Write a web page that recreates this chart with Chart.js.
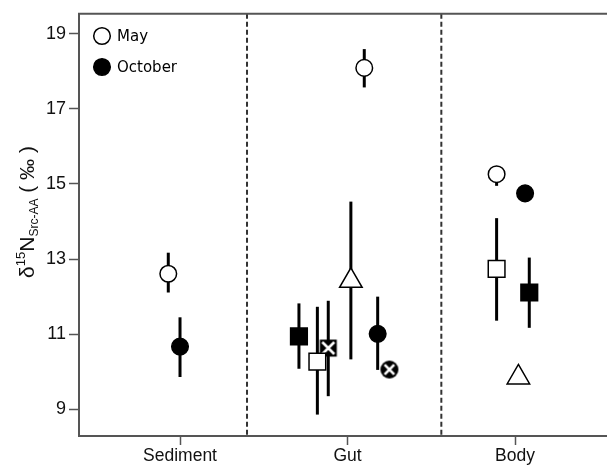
<!DOCTYPE html>
<html>
<head>
<meta charset="utf-8">
<script src="https://cdn.jsdelivr.net/npm/chart.js@4"></script>
<style>
html, body { margin: 0; padding: 0; background: #fff; overflow: hidden; }
#isoChart { display: block; }
</style>
</head>
<body>
<canvas id="isoChart" width="607" height="465"></canvas>
<script>
const categories = ['Sediment', 'Gut', 'Body'];
const yTicks = [9, 11, 13, 15, 17, 19];
const separators = [1.4, 2.56];

// open circle = May, filled circle = October
const mayCircleCat = [0, 1, 2];
const mayCircleShift = [-0.07, 0.10, -0.11];
const mayCircleVal = [12.61, 18.09, 15.26];
const mayCircleLow = [12.11, 17.57, 14.95];
const mayCircleHigh = [13.17, 18.59, 15.3];

const octCircleCat = [0, 1, 2];
const octCircleShift = [0, 0.18, 0.06];
const octCircleVal = [10.67, 11.01, 14.75];
const octCircleLow = [9.86, 10.05, 14.75];
const octCircleHigh = [11.45, 12.0, 14.75];

const maySquareCat = [1, 2];
const maySquareShift = [-0.18, -0.11];
const maySquareVal = [10.27, 12.74];
const maySquareLow = [8.86, 11.36];
const maySquareHigh = [11.73, 14.09];

const octSquareCat = [1, 2];
const octSquareShift = [-0.29, 0.085];
const octSquareVal = [10.94, 12.11];
const octSquareLow = [10.08, 11.17];
const octSquareHigh = [11.82, 13.04];

const triangleCat = [1, 2];
const triangleShift = [0.02, 0.02];
const triangleVal = [12.42, 9.85];
const triangleLow = [10.33, 9.85];
const triangleHigh = [14.53, 9.85];

const crossSquareCat = [1];
const crossSquareShift = [-0.115];
const crossSquareVal = [10.63];
const crossSquareLow = [9.35];
const crossSquareHigh = [11.89];

const crossCircleCat = [1];
const crossCircleShift = [0.25];
const crossCircleVal = [10.06];
const crossCircleLow = [10.06];
const crossCircleHigh = [10.06];

const axisFont = '"Liberation Sans", Arial, sans-serif';

function makePoints(cat, shift, val, low, high) {
    return val.map((v, i) => ({ x: cat[i] + 1 + shift[i], y: v, lo: low[i], hi: high[i] }));
}

// black marker with a white X in it
function crossMarker(shape) {
    const c = document.createElement('canvas');
    c.width = 20;
    c.height = 20;
    const g = c.getContext('2d');
    g.fillStyle = '#000';
    if (shape === 'square') {
        g.fillRect(1.5, 1.5, 17, 17);
    } else {
        g.beginPath();
        g.arc(10, 10, 9, 0, Math.PI * 2);
        g.fill();
    }
    const d = shape === 'square' ? 6 : 4.8;
    g.strokeStyle = '#fff';
    g.lineWidth = 2.6;
    g.beginPath();
    g.moveTo(10 - d, 10 - d); g.lineTo(10 + d, 10 + d);
    g.moveTo(10 + d, 10 - d); g.lineTo(10 - d, 10 + d);
    g.stroke();
    return c;
}

function series(points, style, radius, fill) {
    return {
        data: points,
        pointStyle: style,
        pointRadius: radius,
        pointBackgroundColor: fill,
        pointBorderColor: '#000',
        pointBorderWidth: 1.5,
        showLine: false
    };
}

const errorBars = {
    id: 'errorBars',
    beforeDatasetsDraw(chart) {
        const ctx = chart.ctx, xs = chart.scales.x, ys = chart.scales.y, area = chart.chartArea;
        ctx.save();
        // dashed group separators
        ctx.strokeStyle = '#333';
        ctx.lineWidth = 2;
        ctx.setLineDash([5, 3]);
        separators.forEach(s => {
            const px = xs.getPixelForValue(s);
            ctx.beginPath();
            ctx.moveTo(px, area.top);
            ctx.lineTo(px, area.bottom);
            ctx.stroke();
        });
        ctx.setLineDash([]);
        ctx.strokeStyle = '#000';
        ctx.lineWidth = 3;
        chart.data.datasets.forEach(ds => {
            ds.data.forEach(p => {
                if (p.lo === p.hi) return;
                const px = xs.getPixelForValue(p.x);
                ctx.beginPath();
                ctx.moveTo(px, ys.getPixelForValue(p.lo));
                ctx.lineTo(px, ys.getPixelForValue(p.hi));
                ctx.stroke();
            });
        });
        ctx.restore();
    },
    afterDraw(chart) {
        const ctx = chart.ctx, area = chart.chartArea;
        ctx.save();
        // top frame line
        ctx.strokeStyle = '#555';
        ctx.lineWidth = 2;
        ctx.beginPath();
        ctx.moveTo(area.left - 1, area.top);
        ctx.lineTo(area.right, area.top);
        ctx.stroke();

        // legend
        const items = [['May', '#fff', 36], ['October', '#000', 67]];
        ctx.font = '15px "DejaVu Sans", Verdana, sans-serif';
        ctx.textBaseline = 'middle';
        items.forEach(([label, fill, y]) => {
            ctx.beginPath();
            ctx.arc(102, y, 8.3, 0, Math.PI * 2);
            ctx.fillStyle = fill;
            ctx.fill();
            ctx.lineWidth = 1.5;
            ctx.strokeStyle = '#000';
            ctx.stroke();
            ctx.fillStyle = '#000';
            ctx.fillText(label, 117, y + 1);
        });

        // y axis title with super/subscript
        const parts = [
            { t: 'δ', s: 21, dy: 0 },
            { t: '15', s: 13, dy: -9 },
            { t: 'N', s: 21, dy: 0 },
            { t: 'Src-AA', s: 12, dy: 4 },
            { t: ' ( ‰ )', s: 21, dy: 0 }
        ];
        let total = 0;
        parts.forEach(p => {
            ctx.font = p.s + 'px ' + axisFont;
            p.w = ctx.measureText(p.t).width;
            total += p.w;
        });
        ctx.translate(34, 212);
        ctx.rotate(-Math.PI / 2);
        ctx.textBaseline = 'alphabetic';
        ctx.fillStyle = '#111';
        let x = -total / 2;
        parts.forEach(p => {
            ctx.font = p.s + 'px ' + axisFont;
            ctx.fillText(p.t, x, p.dy);
            x += p.w;
        });
        ctx.restore();
    }
};

new Chart(document.getElementById('isoChart').getContext('2d'), {
    type: 'scatter',
    data: {
        datasets: [
            series(makePoints(maySquareCat, maySquareShift, maySquareVal, maySquareLow, maySquareHigh), 'rect', 11.8, '#fff'),
            series(makePoints(octSquareCat, octSquareShift, octSquareVal, octSquareLow, octSquareHigh), 'rect', 11.8, '#000'),
            series(makePoints(crossSquareCat, crossSquareShift, crossSquareVal, crossSquareLow, crossSquareHigh), crossMarker('square'), 10, '#000'),
            series(makePoints(triangleCat, triangleShift, triangleVal, triangleLow, triangleHigh), 'triangle', 13, '#fff'),
            series(makePoints(mayCircleCat, mayCircleShift, mayCircleVal, mayCircleLow, mayCircleHigh), 'circle', 8.3, '#fff'),
            series(makePoints(octCircleCat, octCircleShift, octCircleVal, octCircleLow, octCircleHigh), 'circle', 8.3, '#000'),
            series(makePoints(crossCircleCat, crossCircleShift, crossCircleVal, crossCircleLow, crossCircleHigh), crossMarker('circle'), 10, '#000')
        ]
    },
    options: {
        responsive: false,
        animation: false,
        events: [],
        layout: { autoPadding: false, padding: { top: 12, left: 0, right: 0, bottom: 0 } },
        plugins: {
            legend: { display: false },
            tooltip: { enabled: false }
        },
        scales: {
            x: {
                type: 'linear',
                min: 0.397,
                max: 3.549,
                afterBuildTicks: function(scale) {
                    scale.ticks = categories.map((c, i) => ({ value: i + 1 }));
                },
                afterFit: function(scale) {
                    scale.height = 29;
                    scale.paddingLeft = 0;
                    scale.paddingRight = 0;
                },
                ticks: {
                    callback: function(value) {
                        return categories[value - 1];
                    },
                    font: { family: axisFont, size: 17.5 },
                    color: '#111',
                    padding: 1,
                    maxRotation: 0
                },
                grid: { drawOnChartArea: false, tickLength: 9, color: '#555', tickWidth: 1.5 },
                border: { color: '#555', width: 2 }
            },
            y: {
                min: 8.29,
                max: 19.53,
                afterBuildTicks: function(scale) {
                    scale.ticks = yTicks.map(v => ({ value: v }));
                },
                afterFit: function(scale) {
                    scale.width = 79;
                },
                ticks: {
                    font: { family: axisFont, size: 18 },
                    color: '#111',
                    padding: 3
                },
                grid: { drawOnChartArea: false, tickLength: 10, color: '#555', tickWidth: 1.5 },
                border: { color: '#555', width: 2 }
            }
        }
    },
    plugins: [errorBars]
});
</script>
</body>
</html>
